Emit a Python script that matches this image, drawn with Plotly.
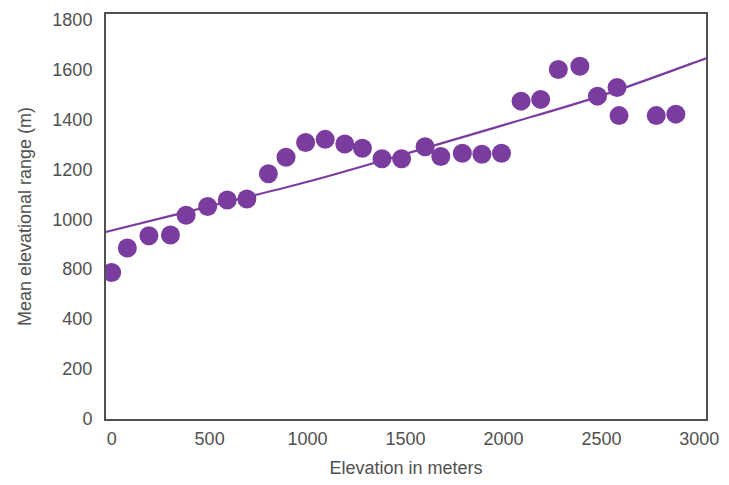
import plotly.graph_objects as go

# Observed data (elevation bins vs mean elevational range)
elevation = [0, 80, 190, 300, 380, 490, 590, 690, 800, 890, 990, 1090, 1190, 1280,
             1380, 1480, 1600, 1680, 1790, 1890, 1990, 2090, 2190, 2280, 2390, 2480,
             2580, 2590, 2780, 2880]
mean_range = [787, 885, 934, 937, 1016, 1051, 1077, 1081, 1182, 1248, 1307, 1320, 1301, 1284,
              1242, 1242, 1290, 1251, 1264, 1260, 1264, 1473, 1480, 1600, 1613, 1493,
              1528, 1415, 1415, 1421]

# Trend line
trend_x = [-29, 0, 500, 1000, 1500, 2000, 2500, 3000, 3034]
trend_y = [949, 955, 1052, 1150, 1262, 1377, 1495, 1635, 1645]

# Tick labels as printed on the original (note: "600" is absent)
y_tickvals = [200, 400, 600, 800, 1000, 1200, 1400, 1600, 1800]
y_ticktext = ["0", "200", "400", "800", "1000", "1200", "1400", "1600", "1800"]
x_tickvals = [0, 500, 1000, 1500, 2000, 2500, 3000]

purple = "#7a3c9e"
gray = "#505050"
font = "Liberation Sans, Arial, sans-serif"

fig = go.Figure()
fig.add_trace(go.Scatter(x=trend_x, y=trend_y, mode="lines",
                         line=dict(color=purple, width=2.2, shape="spline"),
                         hoverinfo="skip", showlegend=False))
fig.add_trace(go.Scatter(x=elevation, y=mean_range, mode="markers",
                         marker=dict(color=purple, size=19, line=dict(width=0)),
                         showlegend=False))

fig.update_layout(
    width=729, height=485,
    margin=dict(l=106, r=19, t=10, b=62),
    paper_bgcolor="white", plot_bgcolor="white",
    font=dict(family=font, color=gray, size=18),
    xaxis=dict(range=[-29, 3034], tickvals=x_tickvals, showgrid=False, zeroline=False,
               showline=True, linecolor=gray, linewidth=2, mirror=True,
               ticks="", tickfont=dict(size=18, color=gray), ticklabelstandoff=2,
               title=dict(text="Elevation in meters", font=dict(size=18, color=gray), standoff=14)),
    yaxis=dict(range=[200, 1822], tickvals=y_tickvals, ticktext=y_ticktext,
               showgrid=False, zeroline=False,
               showline=True, linecolor=gray, linewidth=2, mirror=True,
               ticks="", tickfont=dict(size=18, color=gray), ticklabelstandoff=8,
               title=dict(text="Mean elevational range (m)", font=dict(size=18, color=gray), standoff=16)),
)

fig.write_html("out.html")
